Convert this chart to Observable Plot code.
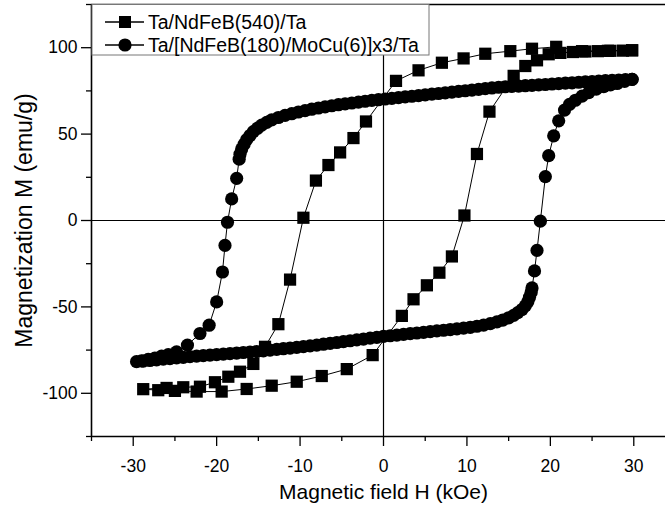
<!DOCTYPE html>
<html>
<head>
<meta charset="utf-8">
<script src="https://cdn.jsdelivr.net/npm/d3@7"></script>
<script src="https://cdn.jsdelivr.net/npm/@observablehq/plot@0.6"></script>
<style>
  html, body { margin: 0; padding: 0; background: #fff; overflow: hidden; }
  #wrap { position: relative; width: 665px; height: 508px; overflow: hidden; }
  #legend { position: absolute; left: 0; top: 0; }
</style>
</head>
<body>
<div id="wrap"></div>
<script>
// ---- Data ----
const seriesNames = ["Ta/NdFeB(540)/Ta", "Ta/[NdFeB(180)/MoCu(6)]x3/Ta"];

// Series 1: Ta/NdFeB(540)/Ta  (squares), descending branch then ascending branch
const sqH = [29.8, 26.9, 23.8, 20.7, 17.8, 15.2, 12.2, 9.6, 7.0, 4.2, 1.5, -2.1, -3.6, -5.2, -6.6, -8.1, -9.6,
  -11.2, -12.6, -14.2, -15.6, -17.2, -18.6, -20.2, -22.0, -24.0, -26.0, -28.8,
  -27.0, -25.0, -22.4, -19.4, -16.4, -13.4, -10.4, -7.4, -4.4, -1.3, 2.2, 3.6, 5.2, 6.7, 8.2, 9.7, 11.2,
  12.7, 15.6, 17.0, 18.4, 19.8, 21.2, 22.7, 24.2, 25.7, 27.2, 28.7, 29.8];
const sqM = [98.5, 98.2, 98.0, 100.5, 99.4, 98.0, 96.5, 93.8, 91.3, 86.9, 80.8, 57.3, 47.7, 39.4, 32.1, 23.1, 1.6,
  -34.2, -60.0, -73.1, -83.0, -87.5, -90.4, -93.6, -96.2, -96.5, -96.9, -97.6,
  -98.2, -98.6, -99.0, -99.0, -97.5, -95.6, -93.3, -90.0, -86.0, -77.9, -55.2, -45.6, -37.5, -30.2, -20.8, 2.9, 38.5,
  63.0, 83.7, 89.4, 92.7, 96.2, 97.0, 97.5, 97.8, 98.0, 98.2, 98.3, 98.5];

// Series 2: Ta/[NdFeB(180)/MoCu(6)]x3/Ta (circles), descending branch then ascending branch
const ciH = [29.8, 29.0, 28.2, 27.4, 26.6, 25.8, 25.0, 24.2, 23.4, 22.6, 21.8, 21.0, 20.2, 19.4, 18.6, 17.8,
  17.0, 16.2, 15.4, 14.6, 13.8, 13.0, 12.2, 11.4, 10.6, 9.8, 9.0, 8.2, 7.4, 6.6, 5.8, 5.0, 4.2, 3.4, 2.6, 1.8,
  1.0, 0.2, -0.6, -1.4, -2.2, -3.0, -3.8, -4.6, -5.4, -6.2, -7.0, -7.8, -8.6, -9.4, -10.2, -11.0, -11.8, -12.6,
  -13.4, -14.0, -14.6, -15.1, -15.6, -16.0, -16.4, -16.7, -17.0, -17.2, -17.3, -17.6, -18.2, -18.7, -19.0,
  -19.3, -20.0, -20.9, -22.0, -23.5, -24.8, -25.8, -26.6, -27.4, -28.2, -29.0, -29.6,
  -28.8, -28.0, -27.2, -26.4, -25.6, -24.8, -24.0, -23.2, -22.4, -21.6, -20.8, -20.0, -19.2, -18.4, -17.6,
  -16.8, -16.0, -15.2, -14.4, -13.6, -12.8, -12.0, -11.2, -10.4, -9.6, -8.8, -8.0, -7.2, -6.4, -5.6, -4.8,
  -4.0, -3.2, -2.4, -1.6, -0.8, 0.0, 0.8, 1.6, 2.4, 3.2, 4.0, 4.8, 5.6, 6.4, 7.2, 8.0, 8.8, 9.6, 10.4, 11.2,
  12.0, 12.8, 13.6, 14.3, 15.0, 15.6, 16.1, 16.6, 17.0, 17.3, 17.5, 17.7, 17.8, 18.1, 18.4, 18.8, 19.4, 19.8,
  20.4, 21.0, 21.7, 22.3, 23.0, 23.8, 24.6, 25.5, 26.4, 27.2, 28.0, 28.9, 29.8];
const ciM = [81.7, 81.5, 81.3, 81.1, 80.9, 80.6, 80.4, 80.2, 80.0, 79.7, 79.5, 79.2, 79.0, 78.7, 78.5, 78.2,
  78.0, 77.8, 77.6, 77.4, 77.1, 76.7, 76.3, 75.9, 75.5, 75.1, 74.7, 74.3, 73.9, 73.5, 73.1, 72.7, 72.3, 71.9, 71.5, 71.1,
  70.7, 70.3, 69.9, 69.5, 69.0, 68.5, 68.0, 67.5, 67.0, 66.4, 65.8, 65.1, 64.4, 63.6, 62.8, 61.8, 60.8, 59.6,
  58.2, 56.8, 55.2, 53.4, 51.4, 49.2, 46.8, 44.2, 41.4, 38.4, 35.5, 24.4, 12.5, -1.0, -14.4,
  -29.8, -47.1, -60.6, -65.4, -72.1, -76.0, -77.6, -78.5, -79.6, -80.4, -81.2, -81.7,
  -81.4, -81.0, -80.6, -80.2, -79.9, -79.5, -79.2, -78.8, -78.5, -78.2, -77.9, -77.6, -77.3, -77.0, -76.7,
  -76.4, -76.1, -75.8, -75.4, -75.0, -74.6, -74.2, -73.8, -73.4, -73.0, -72.6, -72.1, -71.6, -71.1, -70.6, -70.1,
  -69.6, -69.1, -68.6, -68.1, -67.6, -67.1, -66.7, -66.3, -65.9, -65.5, -65.1, -64.7, -64.3, -63.9, -63.5, -63.1, -62.7, -62.3, -61.8, -61.2,
  -60.5, -59.7, -58.7, -57.6, -56.3, -54.9, -53.3, -51.5, -49.4, -47.0, -44.4, -41.6, -39.0, -29.2, -17.3, -0.4, 25.4, 37.5,
  49.0, 57.7, 63.9, 67.2, 69.6, 72.0, 74.0, 76.0, 77.5, 78.5, 79.3, 80.5, 81.7];

const xMajor = [-30, -20, -10, 0, 10, 20, 30];
const xMinor = [-35, -25, -15, -5, 5, 15, 25, 35];
const yMajor = [-100, -50, 0, 50, 100];
const yMinor = [-125, -75, -25, 25, 75, 125];
const xTitle = "Magnetic field H (kOe)";
const yTitle = "Magnetization M (emu/g)";

const sq = sqH.map((h, i) => ({h, m: sqM[i]}));
const ci = ciH.map((h, i) => ({h, m: ciM[i]}));

const fmt = d => String(d);

const chart = Plot.plot({
  width: 665,
  height: 508,
  marginLeft: 91,
  marginRight: -10,
  marginTop: 4,
  marginBottom: 72,
  style: {fontFamily: "'Liberation Sans', Arial, sans-serif", fontSize: "17.5px", color: "#000", background: "#fff", overflow: "hidden"},
  x: {domain: [-35, 35]},
  y: {domain: [-125, 125]},
  marks: [
    Plot.axisX({ticks: xMajor, tickSize: 10, tickPadding: 13, tickFormat: fmt, fontSize: 17.5, strokeWidth: 1.3, label: null}),
    Plot.axisX({ticks: xMinor, tickSize: 5, tickFormat: () => "", strokeWidth: 1.3, label: null}),
    Plot.axisY({ticks: yMajor, tickSize: 10, tickPadding: 4, tickFormat: fmt, fontSize: 17.5, strokeWidth: 1.3, label: null}),
    Plot.axisY({ticks: yMinor, tickSize: 5, tickFormat: () => "", strokeWidth: 1.3, label: null}),
    Plot.ruleX([0], {stroke: "#000", strokeWidth: 1.2}),
    Plot.ruleY([0], {stroke: "#000", strokeWidth: 1.2}),
    Plot.ruleX([-35], {stroke: "#000", strokeWidth: 1.6}),
    Plot.ruleY([-125], {stroke: "#000", strokeWidth: 1.6}),
    Plot.ruleY([125], {stroke: "#000", strokeWidth: 1.6}),
    Plot.line(sq, {x: "h", y: "m", stroke: "#000", strokeWidth: 1}),
    Plot.dot(sq, {x: "h", y: "m", symbol: "square", r: 6.9, fill: "#000", stroke: "none"}),
    Plot.line(ci, {x: "h", y: "m", stroke: "#000", strokeWidth: 1}),
    Plot.dot(ci, {x: "h", y: "m", r: 6.6, fill: "#000", stroke: "none"}),
    Plot.text([xTitle], {frameAnchor: "bottom", dy: 56, fontSize: 21, textAnchor: "middle", lineAnchor: "middle", fill: "#000"}),
    Plot.text([yTitle], {frameAnchor: "left", dx: -67, rotate: -90, fontSize: 23, textAnchor: "middle", lineAnchor: "middle", fill: "#000"})
  ]
});

const wrap = document.getElementById("wrap");
wrap.appendChild(chart);

// Legend overlay
const ns = "http://www.w3.org/2000/svg";
const lg = document.createElementNS(ns, "svg");
lg.setAttribute("id", "legend");
lg.setAttribute("width", 665);
lg.setAttribute("height", 70);
lg.style.fontFamily = "'Liberation Sans', Arial, sans-serif";
const box = document.createElementNS(ns, "rect");
box.setAttribute("x", 92); box.setAttribute("y", 4.5);
box.setAttribute("width", 337); box.setAttribute("height", 50.5);
box.setAttribute("fill", "#fff"); box.setAttribute("stroke", "#777"); box.setAttribute("stroke-width", 1);
lg.appendChild(box);
const rows = [22, 45];
seriesNames.forEach((name, i) => {
  const y = rows[i];
  const ln = document.createElementNS(ns, "line");
  ln.setAttribute("x1", 105); ln.setAttribute("x2", 144); ln.setAttribute("y1", y); ln.setAttribute("y2", y);
  ln.setAttribute("stroke", "#000"); ln.setAttribute("stroke-width", 1.3);
  lg.appendChild(ln);
  let sym;
  if (i === 0) {
    sym = document.createElementNS(ns, "rect");
    sym.setAttribute("x", 125 - 6); sym.setAttribute("y", y - 6);
    sym.setAttribute("width", 12); sym.setAttribute("height", 12);
  } else {
    sym = document.createElementNS(ns, "circle");
    sym.setAttribute("cx", 125); sym.setAttribute("cy", y); sym.setAttribute("r", 6.6);
  }
  sym.setAttribute("fill", "#000");
  lg.appendChild(sym);
  const t = document.createElementNS(ns, "text");
  t.setAttribute("x", 148); t.setAttribute("y", y);
  t.setAttribute("dy", "0.35em");
  t.setAttribute("font-size", "19.5px");
  t.textContent = name;
  lg.appendChild(t);
});
wrap.appendChild(lg);
</script>
</body>
</html>
